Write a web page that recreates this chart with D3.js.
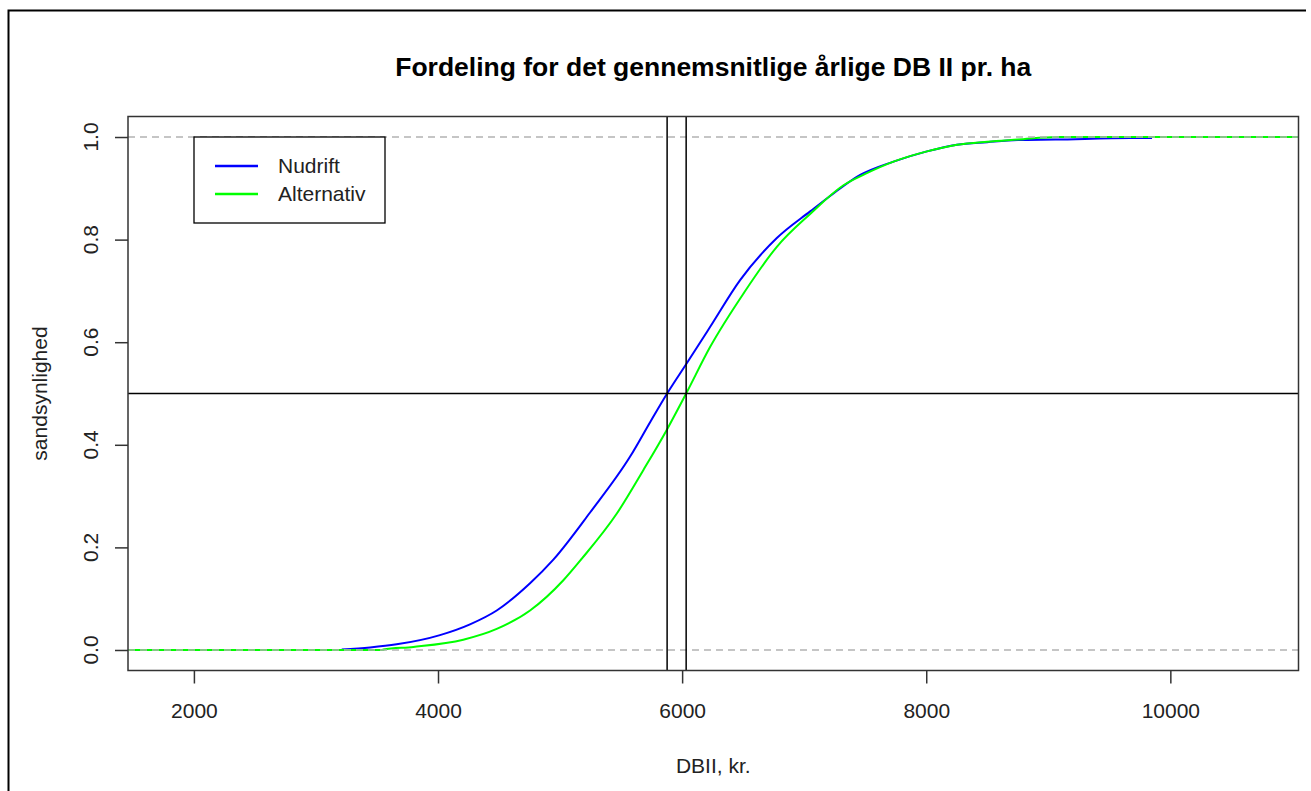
<!DOCTYPE html>
<html>
<head>
<meta charset="utf-8">
<script src="https://cdn.jsdelivr.net/npm/d3@7"></script>
<style>
    body { margin: 0; background: #fff; }
    svg { display: block; font-family: "Liberation Sans", Arial, sans-serif; }
</style>
</head>
<body>
<div id="chart"></div>
<script>
    // readings of the two empirical CDFs (x in kr., y = probability)
    const nudriftX = [3211, 3443, 3661, 4016, 4262, 4481, 4754, 4945, 5246, 5574, 5740, 5877, 6038, 6230, 6475, 6776, 7049, 7240, 7459, 7732, 8006, 8252, 8500, 8750, 9057, 9672, 9850];
    const nudriftY = [0.001, 0.005, 0.011, 0.029, 0.050, 0.077, 0.130, 0.176, 0.268, 0.377, 0.445, 0.5, 0.559, 0.630, 0.721, 0.803, 0.855, 0.890, 0.926, 0.952, 0.972, 0.985, 0.990, 0.994, 0.995, 0.998, 0.998];
    const alternativX = [3552, 3798, 4207, 4481, 4754, 5027, 5178, 5465, 5683, 5874, 6033, 6230, 6503, 6776, 7049, 7322, 7500, 7732, 8006, 8252, 8500, 8750, 9074];
    const alternativY = [0.001, 0.006, 0.020, 0.041, 0.077, 0.136, 0.178, 0.266, 0.351, 0.429, 0.5, 0.591, 0.695, 0.786, 0.850, 0.906, 0.928, 0.952, 0.972, 0.985, 0.991, 0.995, 1.0];

    const medians = [5877, 6033];
    const xTicks = [2000, 4000, 6000, 8000, 10000];
    const yTicks = [0, 0.2, 0.4, 0.6, 0.8, 1.0];
    const seriesNames = ['Nudrift', 'Alternativ'];
    const seriesColors = ['#0000ff', '#00ff00'];

    const width = 1311, height = 791;
    const plot = {left: 128, right: 1298.5, top: 116.5, bottom: 670.5};

    const svg = d3.select('#chart')
        .append('svg')
        .attr('width', width)
        .attr('height', height);

    const x = d3.scaleLinear().domain([1460, 11050]).range([plot.left, plot.right]);
    const y = d3.scaleLinear().domain([-0.04, 1.04]).range([plot.bottom, plot.top]);

    // outer frame (only top and left edge visible)
    svg.append('path')
        .attr('d', 'M8.5,' + height + 'V10.5H1306')
        .attr('fill', 'none')
        .attr('stroke', '#000')
        .attr('stroke-width', 2);

    svg.append('defs').append('clipPath').attr('id', 'clip')
        .append('rect')
        .attr('x', plot.left).attr('y', plot.top)
        .attr('width', plot.right - plot.left).attr('height', plot.bottom - plot.top);

    const g = svg.append('g').attr('clip-path', 'url(#clip)');

    const line = d3.line()
        .x(d => x(d[0]))
        .y(d => y(d[1]))
        .curve(d3.curveMonotoneX);

    const nudrift = d3.zip(nudriftX, nudriftY);
    const alternativ = d3.zip(alternativX, alternativY);

    g.append('path')
        .attr('d', line(nudrift))
        .attr('fill', 'none')
        .attr('stroke', seriesColors[0])
        .attr('stroke-width', 2);

    // alternative curve runs flat out to both plot edges
    const [x0, x1] = x.domain();
    const altFull = [[x0, 0], [alternativX[0], 0]].concat(alternativ, [[x1, 1]]);
    g.append('path')
        .attr('d', line(altFull))
        .attr('fill', 'none')
        .attr('stroke', seriesColors[1])
        .attr('stroke-width', 2);

    // dashed 0/1 lines
    g.selectAll('.hline01')
        .data([0, 1])
        .enter().append('line')
        .attr('x1', plot.left).attr('x2', plot.right)
        .attr('y1', d => y(d)).attr('y2', d => y(d))
        .attr('stroke', '#b3b3b3')
        .attr('stroke-width', 1.3)
        .attr('stroke-dasharray', '7,5');

    // medians and 0.5 line
    g.selectAll('.vline')
        .data(medians)
        .enter().append('line')
        .attr('x1', d => x(d)).attr('x2', d => x(d))
        .attr('y1', plot.top).attr('y2', plot.bottom)
        .attr('stroke', '#000')
        .attr('stroke-width', 1.5);

    g.append('line')
        .attr('x1', plot.left).attr('x2', plot.right)
        .attr('y1', y(0.5)).attr('y2', y(0.5))
        .attr('stroke', '#000')
        .attr('stroke-width', 1.5);

    // plot box
    svg.append('rect')
        .attr('x', plot.left).attr('y', plot.top)
        .attr('width', plot.right - plot.left).attr('height', plot.bottom - plot.top)
        .attr('fill', 'none')
        .attr('stroke', '#333')
        .attr('stroke-width', 1.5);

    // axes
    const xAxis = svg.append('g')
        .attr('transform', `translate(0,${plot.bottom})`)
        .call(d3.axisBottom(x).tickValues(xTicks).tickSize(13).tickPadding(20).tickFormat(d3.format('d')));
    xAxis.select('.domain').remove();
    xAxis.selectAll('line').attr('stroke', '#333').attr('stroke-width', 1.5);
    xAxis.selectAll('text').attr('font-size', 21).attr('fill', '#222').attr('font-family', '"Liberation Sans", Arial, sans-serif');

    const yAxis = svg.append('g')
        .attr('transform', `translate(${plot.left},0)`)
        .call(d3.axisLeft(y).tickValues(yTicks).tickSize(13).tickFormat(''));
    yAxis.select('.domain').remove();
    yAxis.selectAll('line').attr('stroke', '#333').attr('stroke-width', 1.5);

    // rotated y tick labels, as R draws them
    svg.selectAll('.ylab')
        .data(yTicks)
        .enter().append('text')
        .attr('class', 'ylab')
        .attr('transform', d => `translate(98,${y(d)}) rotate(-90)`)
        .attr('text-anchor', 'middle')
        .attr('font-size', 21)
        .attr('fill', '#222')
        .text(d3.format('.1f'));

    // titles
    svg.append('text')
        .attr('x', (plot.left + plot.right) / 2)
        .attr('y', 76)
        .attr('text-anchor', 'middle')
        .attr('font-size', 26.5)
        .attr('font-weight', 'bold')
        .text('Fordeling for det gennemsnitlige årlige DB II pr. ha');

    svg.append('text')
        .attr('x', (plot.left + plot.right) / 2)
        .attr('y', 773)
        .attr('text-anchor', 'middle')
        .attr('font-size', 21)
        .attr('fill', '#222')
        .text('DBII, kr.');

    svg.append('text')
        .attr('transform', `translate(47,${(plot.top + plot.bottom) / 2}) rotate(-90)`)
        .attr('text-anchor', 'middle')
        .attr('font-size', 21)
        .attr('fill', '#222')
        .text('sandsynlighed');

    // legend
    const legend = svg.append('g').attr('transform', 'translate(194,137)');
    legend.append('rect')
        .attr('width', 191).attr('height', 86)
        .attr('fill', '#fff')
        .attr('stroke', '#000')
        .attr('stroke-width', 1.3);

    const item = legend.selectAll('.item')
        .data(seriesNames)
        .enter().append('g')
        .attr('transform', (d, i) => `translate(0,${29 + i * 28})`);
    item.append('line')
        .attr('x1', 21).attr('x2', 64)
        .attr('stroke', (d, i) => seriesColors[i])
        .attr('stroke-width', 2.5);
    item.append('text')
        .attr('x', 84)
        .attr('dy', '.35em')
        .attr('font-size', 21)
        .attr('fill', '#222')
        .text(d => d);
</script>
</body>
</html>
